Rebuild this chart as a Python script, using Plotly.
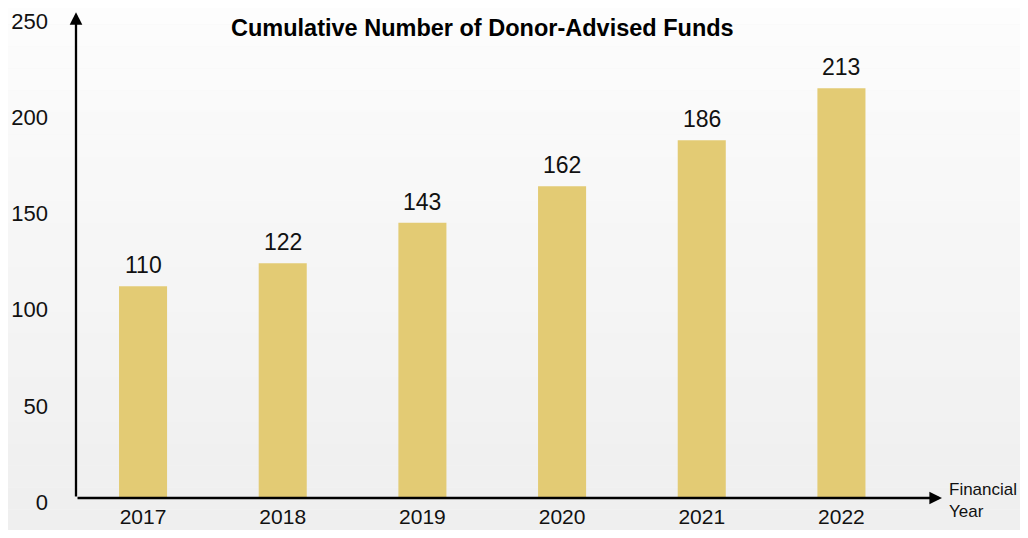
import plotly.graph_objects as go

years = ["2017", "2018", "2019", "2020", "2021", "2022"]
funds = [110, 122, 143, 162, 186, 213]
y_ticks = [0, 50, 100, 150, 200, 250]

BAR_COLOR = "#E3CB74"
FONT = "Helvetica, Liberation Sans, Arial, sans-serif"

xpos = list(range(len(years)))

fig = go.Figure()

fig.add_trace(go.Bar(
    x=xpos, y=funds,
    width=0.344,
    marker=dict(color=BAR_COLOR, line=dict(width=0)),
    hoverinfo="x+y",
))

# value labels above bars
annotations = []
for x, v in zip(xpos, funds):
    annotations.append(dict(
        x=x, y=v, xref="x", yref="y",
        text=str(v), showarrow=False,
        yanchor="bottom", yshift=6,
        font=dict(family=FONT, size=23, color="#111"),
    ))

# axis arrows
annotations.append(dict(
    x=5.72, y=0, ax=-0.48, ay=0,
    xref="x", yref="y", axref="x", ayref="y",
    text="", showarrow=True, arrowhead=2, arrowsize=1.1, arrowwidth=2.3,
    arrowcolor="black",
))
annotations.append(dict(
    x=-0.48, y=252.5, ax=-0.48, ay=0,
    xref="x", yref="y", axref="x", ayref="y",
    text="", showarrow=True, arrowhead=2, arrowsize=1.1, arrowwidth=2.3,
    arrowcolor="black",
))

annotations.append(dict(
    x=1.006, y=-0.005, xref="paper", yref="paper",
    text="Financial<br>Year", showarrow=False, align="left",
    xanchor="left", yanchor="middle",
    font=dict(family=FONT, size=17, color="#111"),
))

annotations.append(dict(
    x=0.469, y=0.977, xref="paper", yref="paper",
    text="<b>Cumulative Number of Donor-Advised Funds</b>", showarrow=False,
    xanchor="center", yanchor="middle",
    font=dict(family=FONT, size=23.5, color="black"),
))

# soft background gradient, near white at top to light grey at the bottom
shapes = []
n = 24
for i in range(n):
    t = i / (n - 1)
    c = int(253 - 14 * t)
    shapes.append(dict(
        type="rect", xref="paper", yref="paper",
        x0=-0.1, x1=1.1, y0=1.03 - (i + 1) * 1.1 / n, y1=1.03 - i * 1.1 / n,
        fillcolor=f"rgb({c},{c},{c})", line=dict(width=0), layer="below",
    ))

fig.update_layout(
    width=1012, height=522,
    margin=dict(l=68, r=78, t=9, b=32),
    paper_bgcolor="#f4f4f4",
    plot_bgcolor="rgba(0,0,0,0)",
    showlegend=False,
    font=dict(family=FONT, size=23, color="#111"),
    annotations=annotations,
    shapes=shapes,
    xaxis=dict(
        range=[-0.48, 5.72],
        tickmode="array", tickvals=xpos, ticktext=years,
        showgrid=False, zeroline=False, showline=False,
        ticks="", ticklabelstandoff=4, automargin=False,
        ticklabeloverflow="allow",
        tickfont=dict(family=FONT, size=21, color="#111"),
    ),
    yaxis=dict(
        range=[0, 250],
        tickmode="array", tickvals=y_ticks,
        showgrid=False, zeroline=False, showline=False,
        ticks="", ticklabelstandoff=27, ticklabelshift=4, automargin=False,
        ticklabeloverflow="allow",
        tickfont=dict(family=FONT, size=22, color="#111"),
    ),
)

fig.write_html("out.html")
